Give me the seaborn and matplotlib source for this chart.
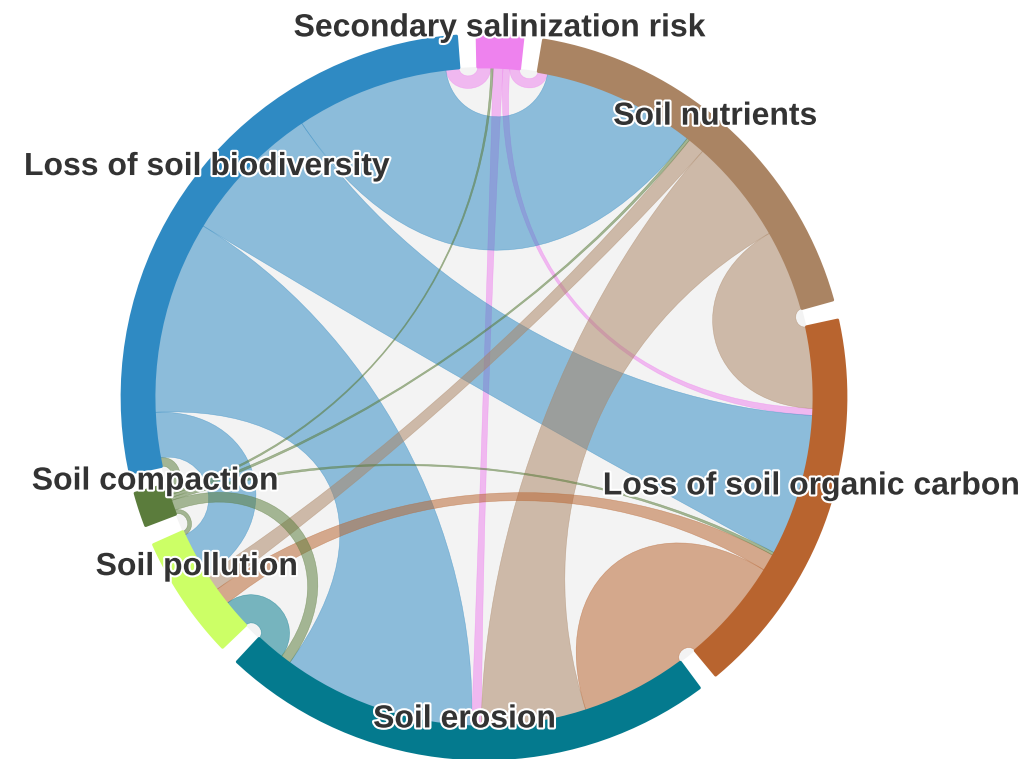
import numpy as np
import matplotlib
matplotlib.use("Agg")
import matplotlib.pyplot as plt
import matplotlib.patheffects as pe
from matplotlib.path import Path
from matplotlib.patches import PathPatch, Polygon, Circle
import seaborn as sns

sns.set_theme(style="white")
plt.rcParams['font.family'] = ['Liberation Sans', 'DejaVu Sans']

# Nodes, clockwise from the top
nodes = ["Secondary salinization risk", "Soil nutrients", "Loss of soil organic carbon",
         "Soil erosion", "Soil pollution", "Soil compaction", "Loss of soil biodiversity"]
node_colors = ["#ee82ee", "#aa8463", "#b8642f", "#047a8e", "#ccff66", "#5b7c3c", "#2f8ac3"]

# Links (from index, to index, weight); link colour follows the "from" node
link_from = [0, 0, 0, 0, 6, 6, 6, 6, 1, 1, 1, 2, 2, 3, 5, 5, 5, 5, 5, 5]
link_to = [6, 1, 3, 2, 1, 2, 3, 4, 4, 3, 2, 4, 3, 4, 0, 1, 2, 3, 4, 6]
link_weight = [2.3, 1.7, 1.7, 1.2, 27.0, 25.0, 34.0, 8.0, 3.0, 18.5, 14.3,
               3.0, 18.5, 5.0, 0.4, 0.5, 0.5, 1.8, 0.7, 1.5]

palette = sns.color_palette(node_colors)

# Layout
cx, cy = 484, 397
r_out, r_in = 362, 330
pad = np.radians(3.25)
start_angle = np.radians(-1.1)
curve_factor = 0.6

n = len(nodes)
totals = np.zeros(n)
for f, t, w in zip(link_from, link_to, link_weight):
    totals[f] += w
    totals[t] += w
scale = (2 * np.pi - n * pad) / totals.sum()

node_start, node_end = [], []
a = start_angle
for k in range(n):
    node_start.append(a)
    node_end.append(a + totals[k] * scale)
    a = node_end[-1] + pad

# slot every link on both of its nodes, partners ordered to avoid crossings
slots = {}
for k in range(n):
    a = node_start[k]
    for m in range(1, n):
        p = (k - m) % n
        for li, (f, t, w) in enumerate(zip(link_from, link_to, link_weight)):
            if (f == k and t == p) or (f == p and t == k):
                slots[(li, k)] = (a, a + w * scale)
                a += w * scale


def pt(theta, r):
    return np.array([cx + r * np.sin(theta), cy - r * np.cos(theta)])


def ctrl(theta, other):
    d = abs(other - theta) % (2 * np.pi)
    if d > np.pi:
        d = 2 * np.pi - d
    cf = curve_factor * min(d, 1.0)
    return pt(theta, r_in * (1 - cf))


def arc(a0, a1, r, num=40):
    return [pt(t, r) for t in np.linspace(a0, a1, num)]


fig = plt.figure(figsize=(10.23, 7.59), dpi=100)
ax = fig.add_axes([0, 0, 1, 1])
ax.set_xlim(0, 1023)
ax.set_ylim(759, 0)
ax.axis("off")

# light backdrop inside the wheel
ax.add_patch(Circle((cx, cy), r_in, facecolor="#f3f3f3", edgecolor="none", zorder=1))

# Ribbons
for li, (f, t, w) in enumerate(zip(link_from, link_to, link_weight)):
    f0, f1 = slots[(li, f)]
    t0, t1 = slots[(li, t)]
    verts, codes = [], []
    a1 = arc(f0, f1, r_in)
    verts += a1
    codes += [Path.MOVETO] + [Path.LINETO] * (len(a1) - 1)
    verts += [ctrl(f1, t0), ctrl(t0, f1), pt(t0, r_in)]
    codes += [Path.CURVE4] * 3
    a2 = arc(t0, t1, r_in)
    verts += a2[1:]
    codes += [Path.LINETO] * (len(a2) - 1)
    verts += [ctrl(t1, f0), ctrl(f0, t1), pt(f0, r_in)]
    codes += [Path.CURVE4] * 3
    verts.append(pt(f0, r_in))
    codes.append(Path.CLOSEPOLY)
    patch = PathPatch(Path(np.array(verts), codes), facecolor=palette[f], alpha=0.52,
                      edgecolor=palette[f], linewidth=0.4, zorder=2)
    ax.add_patch(patch)

# Node arcs
for k in range(n):
    ring = arc(node_start[k], node_end[k], r_out) + arc(node_end[k], node_start[k], r_in)
    ax.add_patch(Polygon(np.array(ring), closed=True, facecolor=palette[k],
                         edgecolor=palette[k], linewidth=2, joinstyle="round", zorder=3))

# Labels
for k in range(n):
    mid = (node_start[k] + node_end[k]) / 2
    x, y = pt(mid, (r_in + r_out) / 2)
    ax.text(x, y - 23, nodes[k], ha="center", va="center", fontsize=23,
            fontweight="bold", color="#333333", zorder=5,
            path_effects=[pe.withStroke(linewidth=3, foreground="white")])

fig.savefig("out.png", dpi=100)
